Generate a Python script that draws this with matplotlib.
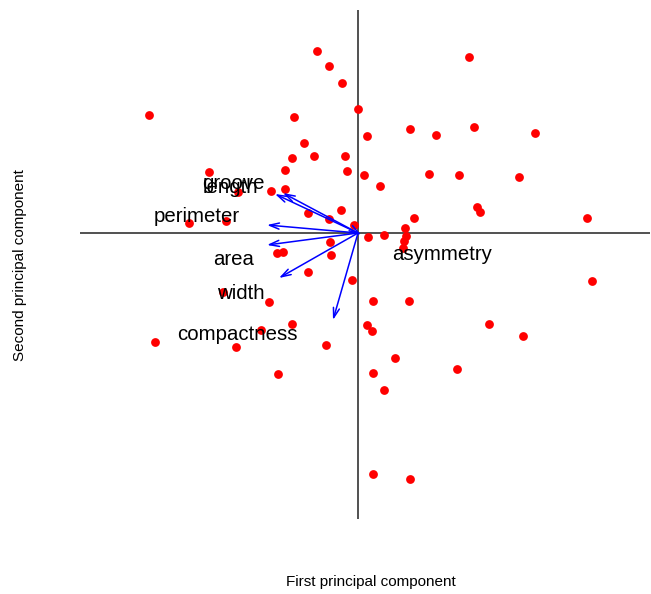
import matplotlib.pyplot as plt

# scores (first / second principal component)
pc1 = [-0.41, -0.29, -0.16, 0.00, -2.09, -0.64, -0.54, -0.66, -0.44, -0.13,
       -0.73, -0.11, -1.49, -0.87, -0.73, -1.20, 1.11, 0.09, 0.52, 0.78,
       1.16, 1.77, 0.06, 0.22, 0.71, 1.01, 1.61, 1.19, 1.22, 2.29,
       0.56, -0.04, 0.47, 0.10, 0.26, 0.48, 0.46, 0.45, -0.50, -0.17,
       -0.29, -0.81, -0.75, -0.28, -0.27, -0.50, -1.69, -1.32, -0.06, 2.34,
       0.15, 0.51, 0.09, 0.14, 1.31, 1.65, 0.37, 0.99, 0.15, 0.26,
       -1.35, -0.89, -0.66, -0.97, -2.03, -1.22, -0.32, -0.80, 0.15, 0.52]
pc2 = [1.82, 1.67, 1.50, 1.24, 1.18, 1.16, 0.90, 0.75, 0.77, 0.77,
       0.63, 0.62, 0.61, 0.42, 0.44, 0.41, 1.76, 0.97, 1.04, 0.98,
       1.06, 1.00, 0.58, 0.47, 0.59, 0.58, 0.56, 0.26, 0.21, 0.15,
       0.15, 0.08, 0.05, -0.04, -0.02, -0.03, -0.08, -0.15, 0.20, 0.23,
       0.14, -0.20, -0.19, -0.09, -0.22, -0.39, 0.10, 0.12, -0.47, -0.48,
       -0.68, -0.68, -0.92, -0.98, -0.91, -1.03, -1.25, -1.36, -1.40, -1.57,
       -0.59, -0.69, -0.91, -0.97, -1.09, -1.14, -1.12, -1.41, -2.41, -2.46]

# loadings
variables = ['length', 'groove', 'perimeter', 'area', 'width', 'compactness', 'asymmetry']
load1 = [-0.83, -0.75, -0.91, -0.91, -0.79, -0.25, 0.03]
load2 = [0.39, 0.40, 0.08, -0.12, -0.45, -0.87, -0.02]
lab1 = [-1.28, -1.25, -1.61, -1.24, -1.17, -1.21, 0.84]
lab2 = [0.45, 0.49, 0.16, -0.27, -0.61, -1.02, -0.22]

fig = plt.figure(figsize=(6.51, 5.94), dpi=100)
ax = fig.add_axes([0, 0, 1, 1])
ax.set_xlim(-3.58, 2.93)
ax.set_ylim(-3.61, 2.33)
ax.axis('off')

ax.hlines(0, -2.78, 2.92, color='#333333', lw=1.2)
ax.vlines(0, -2.86, 2.23, color='#333333', lw=1.2)

ax.scatter(pc1, pc2, s=40, color='red', zorder=3, linewidths=0)

for v, x, y, tx, ty in zip(variables, load1, load2, lab1, lab2):
    ax.annotate('', xy=(x, y), xytext=(0, 0),
                arrowprops=dict(arrowstyle='->,head_length=0.7,head_width=0.22',
                                color='blue', lw=1.1, shrinkA=0, shrinkB=0),
                zorder=4)
    ax.text(tx, ty, v, ha='center', va='center', fontsize=14.7,
            family='Liberation Sans', color='black', zorder=5)

fig.text(371/651, 1 - 582/594, 'First principal component', ha='center', va='center',
         fontsize=11, family='Liberation Sans')
fig.text(20/651, 1 - 265/594, 'Second principal component', ha='center', va='center',
         rotation=90, fontsize=11, family='Liberation Sans')

fig.savefig('out.png', dpi=100)
